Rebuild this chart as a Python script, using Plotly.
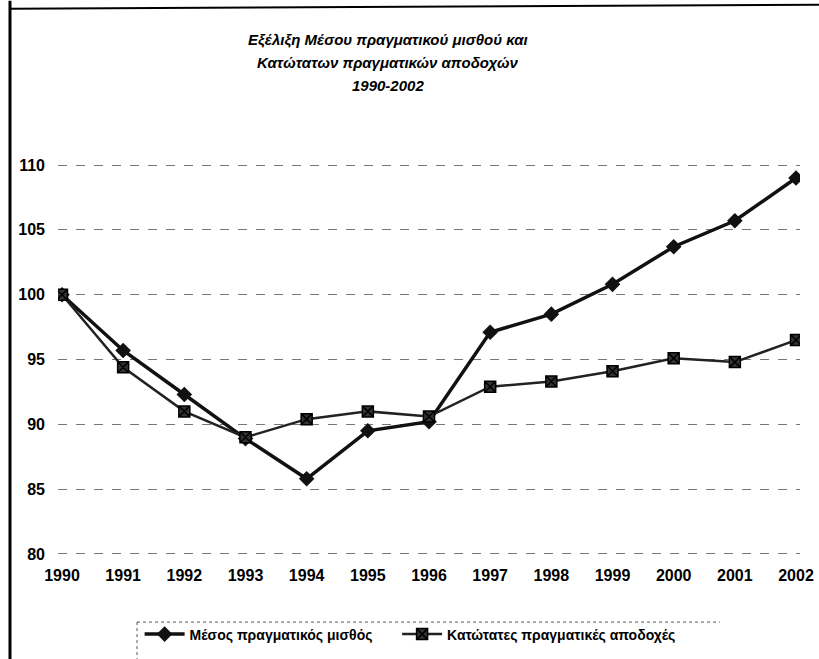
import plotly.graph_objects as go

years = [1990, 1991, 1992, 1993, 1994, 1995, 1996, 1997, 1998, 1999, 2000, 2001, 2002]
mesos = [100.0, 95.7, 92.3, 88.9, 85.8, 89.5, 90.2, 97.1, 98.5, 100.8, 103.7, 105.7, 109.0]
katotates = [100.0, 94.4, 91.0, 89.0, 90.4, 91.0, 90.6, 92.9, 93.3, 94.1, 95.1, 94.8, 96.5]
series_names = ["Μέσος πραγματικός μισθός", "Κατώτατες πραγματικές αποδοχές"]
title_lines = ["Εξέλιξη Μέσου πραγματικού μισθού και", "Κατώτατων πραγματικών αποδοχών", "1990-2002"]
y_ticks = [80, 85, 90, 95, 100, 105, 110]

FONT = "Liberation Sans, Arial, sans-serif"

fig = go.Figure()
fig.add_trace(go.Scatter(
    x=years, y=mesos, name=f"<b>{series_names[0]}</b>", mode="lines+markers",
    line=dict(color="#111111", width=3.5),
    marker=dict(symbol="diamond", size=12, color="#111111"),
    legend="legend",
))
fig.add_trace(go.Scatter(
    x=years, y=katotates, name=f"<b>{series_names[1]}</b>", mode="lines+markers",
    line=dict(color="#222222", width=2.5),
    marker=dict(symbol="square-x", size=11, color="#333333",
                line=dict(color="#000000", width=1.5)),
    legend="legend2",
))

legend_common = dict(
    orientation="h", xanchor="left", y=-0.152, yanchor="top",
    font=dict(family=FONT, size=14, color="#000000"),
    itemwidth=40, bgcolor="rgba(0,0,0,0)",
)

fig.update_layout(
    width=819, height=659,
    margin=dict(l=58, r=19, t=160, b=101, autoexpand=False),
    paper_bgcolor="white", plot_bgcolor="white",
    font=dict(family=FONT, size=14, color="#000000"),
    showlegend=True,
    legend=dict(x=0.11, **legend_common),
    legend2=dict(x=0.457, **legend_common),
    xaxis=dict(
        range=[1989.935, 2002.065], tickmode="array", tickvals=years,
        ticktext=[f"<b>{y}</b>" for y in years],
        showgrid=False, zeroline=False, showline=False, ticks="",
        tickfont=dict(size=16), automargin=False, ticklabelstandoff=6,
    ),
    yaxis=dict(
        range=[79.69, 110.39], tickmode="array", tickvals=y_ticks,
        ticktext=[f"<b>{v}</b>" for v in y_ticks],
        showgrid=True, gridcolor="#777777", griddash="dash", gridwidth=1,
        zeroline=False, showline=False, ticks="", ticklabelstandoff=12,
        tickfont=dict(size=16), automargin=False,
    ),
)

# title lines
for txt, yp in zip(title_lines, [1.302, 1.246, 1.188]):
    fig.add_annotation(
        text=f"<b><i>{txt}</i></b>", xref="paper", yref="paper",
        x=0.445, y=yp, xanchor="center", yanchor="middle", showarrow=False,
        font=dict(family=FONT, size=15, color="#000000"),
    )

# frame lines (top and left) and dashed legend box
fig.add_shape(type="line", xref="paper", yref="paper", x0=-0.0647, x1=1.03, y0=1.38, y1=1.39,
              line=dict(color="#000000", width=2))
fig.add_shape(type="line", xref="paper", yref="paper", x0=-0.0647, x1=-0.0647, y0=1.4, y1=-0.26,
              line=dict(color="#000000", width=3))
fig.add_shape(type="line", xref="paper", yref="paper", x0=0.1065, x1=0.892, y0=-0.161, y1=-0.161,
              line=dict(color="#555555", width=1, dash="dot"))
fig.add_shape(type="line", xref="paper", yref="paper", x0=0.1065, x1=0.1065, y0=-0.161, y1=-0.26,
              line=dict(color="#555555", width=1, dash="dot"))

fig.write_html("out.html", config={"displayModeBar": False},
               post_script="document.body.style.margin='0';document.body.style.overflow='hidden';")
